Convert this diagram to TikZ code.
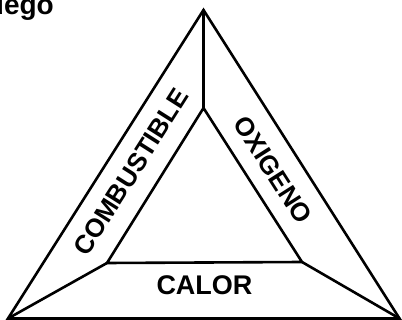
\documentclass[tikz,border=0pt]{standalone}
\usepackage{fontspec}
\setmainfont{Liberation Sans}
\begin{document}
\begin{tikzpicture}[x=1pt,y=-1pt,
  edge/.style={line width=2.6pt,line join=miter,line cap=round},
  lbl/.style={font=\fontsize{26}{26}\selectfont\bfseries,inner sep=0pt}]
\useasboundingbox (0,0) rectangle (402,320);
\clip (0,0) rectangle (402,320);
% outer corners
\coordinate (A) at (203.5,10);
\coordinate (B) at (8,318.5);
\coordinate (C) at (399.5,318.5);
% inner corners
\coordinate (D) at (203.5,108);
\coordinate (E) at (107,263);
\coordinate (F) at (302,262);
\draw[edge] (A) -- (B) -- (C) -- cycle;
\draw[edge] (D) -- (E) -- (F) -- cycle;
\draw[edge] (A) -- (D);
\draw[edge] (B) -- (E);
\draw[edge] (C) -- (F);
\node[lbl,rotate=57.6] (comb) at (131,172) {COMBUSTIBLE};
\node[lbl,rotate=-57.5] (oxi) at (273,170) {OXIGENO};
\node[lbl,font=\fontsize{27}{27}\selectfont\bfseries] (cal) at (204.5,285) {CALOR};
\node[lbl,font=\fontsize{28}{28}\selectfont\bfseries,anchor=base east] (tit) at (54,14.5) {fuego};
\end{tikzpicture}
\end{document}
